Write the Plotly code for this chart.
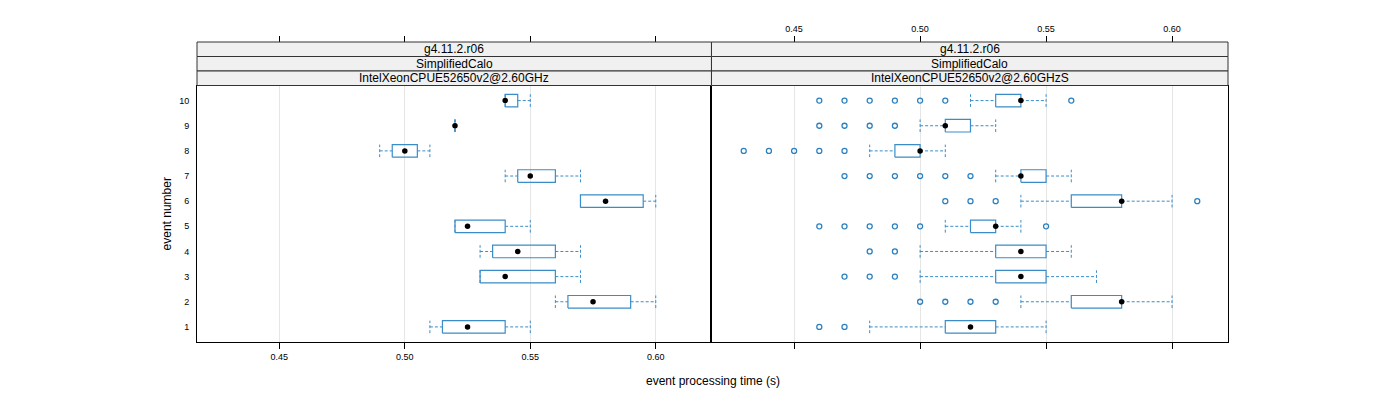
import plotly.graph_objects as go

# ---------------- data ----------------
events = [1, 2, 3, 4, 5, 6, 7, 8, 9, 10]
panel_titles = [
    ["g4.11.2.r06", "SimplifiedCalo", "IntelXeonCPUE52650v2@2.60GHz"],
    ["g4.11.2.r06", "SimplifiedCalo", "IntelXeonCPUE52650v2@2.60GHzS"],
]
x_ticks = [0.45, 0.50, 0.55, 0.60]
x_ticktext = ["0.45", "0.50", "0.55", "0.60"]

# panel 1: IntelXeonCPUE52650v2@2.60GHz
p1_lo = [0.51, 0.56, 0.53, 0.53, 0.52, 0.57, 0.54, 0.49, 0.52, 0.54]
p1_q1 = [0.515, 0.565, 0.53, 0.535, 0.52, 0.57, 0.545, 0.495, 0.52, 0.54]
p1_med = [0.525, 0.575, 0.54, 0.545, 0.525, 0.58, 0.55, 0.50, 0.52, 0.54]
p1_q3 = [0.54, 0.59, 0.56, 0.56, 0.54, 0.595, 0.56, 0.505, 0.52, 0.545]
p1_hi = [0.55, 0.60, 0.57, 0.57, 0.55, 0.60, 0.57, 0.51, 0.52, 0.55]
p1_out = [[], [], [], [], [], [], [], [], [], []]

# panel 2: IntelXeonCPUE52650v2@2.60GHzS
p2_lo = [0.48, 0.54, 0.50, 0.50, 0.51, 0.54, 0.53, 0.48, 0.50, 0.52]
p2_q1 = [0.51, 0.56, 0.53, 0.53, 0.52, 0.56, 0.54, 0.49, 0.51, 0.53]
p2_med = [0.52, 0.58, 0.54, 0.54, 0.53, 0.58, 0.54, 0.50, 0.51, 0.54]
p2_q3 = [0.53, 0.58, 0.55, 0.55, 0.53, 0.58, 0.55, 0.50, 0.52, 0.54]
p2_hi = [0.55, 0.60, 0.57, 0.56, 0.54, 0.60, 0.56, 0.51, 0.53, 0.55]
p2_out = [
    [0.46, 0.47],
    [0.50, 0.51, 0.52, 0.53],
    [0.47, 0.48, 0.49],
    [0.48, 0.49],
    [0.46, 0.47, 0.48, 0.49, 0.50, 0.55],
    [0.51, 0.52, 0.53, 0.61],
    [0.47, 0.48, 0.49, 0.50, 0.51, 0.52],
    [0.43, 0.44, 0.45, 0.46, 0.47],
    [0.46, 0.47, 0.48, 0.49],
    [0.46, 0.47, 0.48, 0.49, 0.50, 0.51, 0.56],
]

# ---------------- style ----------------
FONT = "Liberation Sans"
BOX_COL = "#3a8dc8"
OUT_COL = "#2a80c0"
HALF = 0.25
XRANGE = [0.4172, 0.6222]
YRANGE = [0.4, 10.6]


def box_traces(lo, q1, med, q3, hi, out, xa, ya):
    bx, by, wx, wy, ox, oy = [], [], [], [], [], []
    for ev, a, b, m, c, d, o in zip(events, lo, q1, med, q3, hi, out):
        bx += [b, c, c, b, b, None]
        by += [ev - HALF, ev - HALF, ev + HALF, ev + HALF, ev - HALF, None]
        wx += [a, b, None, c, d, None, a, a, None, d, d, None]
        wy += [ev, ev, None, ev, ev, None, ev - HALF, ev + HALF, None,
               ev - HALF, ev + HALF, None]
        ox += o
        oy += [ev] * len(o)
    common = dict(xaxis=xa, yaxis=ya, showlegend=False, hoverinfo="skip")
    return [
        go.Scatter(x=wx, y=wy, mode="lines",
                   line=dict(color=BOX_COL, width=1, dash="3px,2px"), **common),
        go.Scatter(x=bx, y=by, mode="lines",
                   line=dict(color=BOX_COL, width=1.2), **common),
        go.Scatter(x=ox, y=oy, mode="markers",
                   marker=dict(symbol="circle-open", size=5, color=OUT_COL,
                               line=dict(width=1.3, color=OUT_COL)), **common),
        go.Scatter(x=med, y=events, mode="markers",
                   marker=dict(symbol="circle", size=5.5, color="black"), **common),
    ]


fig = go.Figure()
for t in box_traces(p1_lo, p1_q1, p1_med, p1_q3, p1_hi, p1_out, "x", "y"):
    fig.add_trace(t)
for t in box_traces(p2_lo, p2_q1, p2_med, p2_q3, p2_hi, p2_out, "x2", "y2"):
    fig.add_trace(t)
# empty traces so the top tick axes exist
fig.add_trace(go.Scatter(x=[None], y=[None], xaxis="x3", yaxis="y",
                         showlegend=False, hoverinfo="skip"))
fig.add_trace(go.Scatter(x=[None], y=[None], xaxis="x4", yaxis="y2",
                         showlegend=False, hoverinfo="skip"))

DIV = 0.499
PANEL_TOP = 0.855
STRIP_H = (1 - PANEL_TOP) / 3

tickfont = dict(family=FONT, size=9, color="black")
xcommon = dict(range=XRANGE, tickvals=x_ticks, ticktext=x_ticktext,
               showgrid=True, gridcolor="#e6e6e6", gridwidth=1, zeroline=False,
               showline=True, linecolor="black", linewidth=1, mirror=True,
               ticks="outside", ticklen=6, tickcolor="black", tickwidth=1,
               tickfont=tickfont, automargin=False)
ycommon = dict(range=YRANGE, tickvals=events, ticktext=[str(e) for e in events],
               showgrid=False, zeroline=False, showline=True, linecolor="black",
               linewidth=1, mirror=True, domain=[0, PANEL_TOP],
               ticks="outside", ticklen=5, tickcolor="rgba(0,0,0,0)",
               tickfont=tickfont, automargin=False)

top_common = dict(range=XRANGE, tickvals=x_ticks, ticktext=x_ticktext,
                  showgrid=False, zeroline=False, showline=False,
                  ticks="outside", ticklen=6, tickcolor="black", tickwidth=1,
                  side="top", anchor="free", position=1, tickfont=tickfont,
                  automargin=False)

# page body has an 8px margin, so the figure is offset by 8px
fig.update_layout(
    width=1392, height=392,
    margin=dict(l=189, r=172, t=34, b=58),
    paper_bgcolor="white", plot_bgcolor="white",
    font=dict(family=FONT, color="black"),
    xaxis=dict(domain=[0, DIV], anchor="y", **xcommon),
    xaxis2=dict(domain=[DIV, 1], anchor="y2", showticklabels=False, **xcommon),
    xaxis3=dict(overlaying="x", showticklabels=False, **top_common),
    xaxis4=dict(overlaying="x2", showticklabels=True, **top_common),
    yaxis=dict(anchor="x", title=dict(text="event number",
                                      font=dict(family=FONT, size=12),
                                      standoff=4), **ycommon),
    yaxis2=dict(anchor="x2", matches="y", showticklabels=False, **ycommon),
)

fig.add_annotation(text="event processing time (s)", xref="paper", yref="paper",
                   x=0.5, y=0, yshift=-39, showarrow=False, xanchor="center",
                   font=dict(family=FONT, size=12), yanchor="middle")

# strips
panels = [(0, DIV), (DIV, 1)]
for (x0, x1), titles in zip(panels, panel_titles):
    for i, txt in enumerate(titles):
        ytop = 1 - i * STRIP_H
        ybot = ytop - STRIP_H
        fig.add_shape(type="rect", xref="paper", yref="paper",
                      x0=x0, x1=x1, y0=ybot, y1=ytop,
                      fillcolor="#f0f0f0", line=dict(color="#333333", width=1),
                      layer="above")
        fig.add_annotation(text=txt, xref="paper", yref="paper",
                           x=(x0 + x1) / 2, y=(ytop + ybot) / 2,
                           showarrow=False, xanchor="center", yanchor="middle",
                           font=dict(family=FONT, size=12, color="black"))

fig.write_html("out.html")
